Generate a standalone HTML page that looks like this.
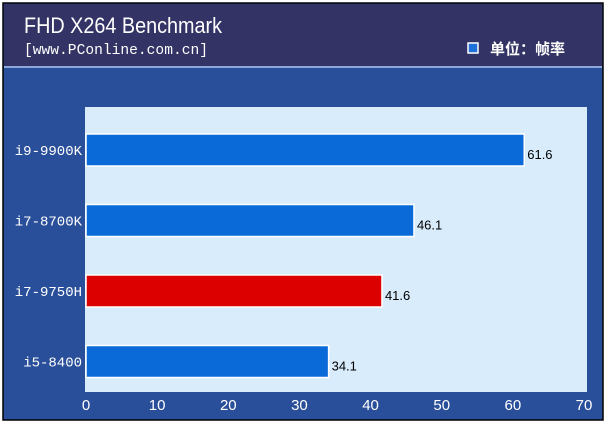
<!DOCTYPE html>
<html><head><meta charset="utf-8"><style>
body{margin:0;width:607px;height:424px;background:#fff;overflow:hidden}
svg{display:block}
</style></head><body>
<svg width="607" height="424" xmlns="http://www.w3.org/2000/svg">
<rect x="3" y="3" width="600" height="417" fill="#2a4f9a" stroke="#000" stroke-width="1.5"/>
<rect x="4" y="4" width="598" height="62" fill="#333366"/>
<rect x="4" y="66" width="598" height="2" fill="#8ea6d8"/>
<text x="24" y="33" font-family="Liberation Sans, sans-serif" font-size="22" fill="#fff" textLength="198" lengthAdjust="spacingAndGlyphs">FHD X264 Benchmark</text>
<text x="24" y="54" font-family="Liberation Mono, monospace" font-size="15" fill="#fff" textLength="184" lengthAdjust="spacingAndGlyphs">[www.PConline.com.cn]</text>
<rect x="468" y="43" width="10" height="10" fill="#1e6fd8" stroke="#fff" stroke-width="1.5"/>
<text x="490" y="54" font-family="Liberation Sans, Noto Sans CJK SC, sans-serif" font-size="15" font-weight="bold" fill="#fff">单位：帧率</text>
<rect x="85" y="107" width="502" height="285" fill="#d8ecfc"/>
<g id="bars"></g><g id="xt"></g>
</svg>
<script>
const categories=["i9-9900K","i7-8700K","i7-9750H","i5-8400"];
const values=[61.6,46.1,41.6,34.1];
const colors=["#0a6ad8","#0a6ad8","#dd0000","#0a6ad8"];
const ticks=[0,10,20,30,40,50,60,70];
const x=v=>86+v*(584-86)/70;
const yc=i=>150+i*70.5;
const NS="http://www.w3.org/2000/svg";
const bg=document.getElementById('bars');
categories.forEach((c,i)=>{
 const r=document.createElementNS(NS,'rect');
 r.setAttribute('x',x(0));r.setAttribute('y',yc(i)-16);
 r.setAttribute('width',x(values[i])-x(0));r.setAttribute('height',32);
 r.setAttribute('fill',colors[i]);r.setAttribute('stroke','#fff');r.setAttribute('stroke-width','1.5');
 
 
 bg.appendChild(r);
 const t=document.createElementNS(NS,'text');
 t.setAttribute('x',x(values[i])+3);t.setAttribute('y',yc(i)+9);
 t.setAttribute('font-family','Liberation Sans, sans-serif');t.setAttribute('font-size','13');
 t.textContent=values[i];
 
 
 bg.appendChild(t);
 const l=document.createElementNS(NS,'text');
 l.setAttribute('x',82);l.setAttribute('y',yc(i)+5);l.setAttribute('text-anchor','end');
 l.setAttribute('font-family','Liberation Mono, monospace');l.setAttribute('font-size','14');l.setAttribute('fill','#fff');
 l.textContent=c;
 
 
 bg.appendChild(l);
});
const xt=document.getElementById('xt');
ticks.forEach(v=>{
 const t=document.createElementNS(NS,'text');
 t.setAttribute('x',x(v));t.setAttribute('y',410);t.setAttribute('text-anchor','middle');
 t.setAttribute('font-family','Liberation Sans, sans-serif');t.setAttribute('font-size','15');t.setAttribute('fill','#fff');
 t.textContent=v;
 
 
 xt.appendChild(t);
});
</script>
</body></html>
